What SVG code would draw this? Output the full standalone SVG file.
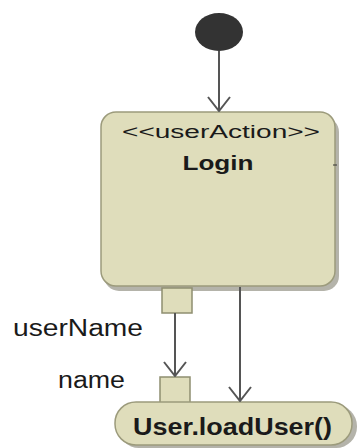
<svg xmlns="http://www.w3.org/2000/svg" width="358" height="448" viewBox="0 0 358 448">
<defs>
<style>
.act{fill:#dfddbb;stroke:#9c9b7c;stroke-width:1.5}
.shadow{fill:#b4b3aa}
.pin{fill:#dfddbb;stroke:#8f8e70;stroke-width:1.5}
.edge{stroke:#555;stroke-width:2;fill:none}
.t{font-family:"Liberation Sans",Arial,sans-serif;fill:#1a1a1a}
.b{font-weight:bold}
</style>
<marker id="arr" viewBox="0 0 16 24" refX="15" refY="12" markerWidth="16" markerHeight="24" markerUnits="userSpaceOnUse" orient="auto">
<path d="M1,1 L15,12 L1,23" fill="none" stroke="#555" stroke-width="2"/>
</marker>
</defs>
<rect width="358" height="448" fill="#fff"/>
<g id="initial">
<ellipse cx="219" cy="32" rx="24" ry="19" fill="#333"/>
</g>
<g id="login">
<rect class="shadow" x="104" y="117" width="235" height="174" rx="15"/>
<rect class="act" x="101" y="112" width="234" height="174" rx="15"/>
<line x1="333" y1="165" x2="337" y2="165" stroke="#333" stroke-width="1"/>
<text class="t" x="221" y="138" font-size="18" text-anchor="middle" textLength="198" lengthAdjust="spacingAndGlyphs">&lt;&lt;userAction&gt;&gt;</text>
<text class="t b" x="218" y="170" font-size="21" text-anchor="middle" textLength="71" lengthAdjust="spacingAndGlyphs">Login</text>
</g>
<g id="pin-userName">
<rect class="pin" x="162" y="288" width="30" height="25"/>
<text class="t" x="13" y="336" font-size="23" textLength="130" lengthAdjust="spacingAndGlyphs">userName</text>
</g>
<g id="loadUser">
<rect class="shadow" x="118" y="405" width="239" height="43" rx="21"/>
<rect class="pin" x="160" y="377" width="30" height="30"/>
<rect class="act" x="115" y="402" width="237" height="43" rx="21"/>
<text class="t b" x="133" y="435" font-size="23" textLength="199" lengthAdjust="spacingAndGlyphs">User.loadUser()</text>
</g>
<g id="pin-name">
<text class="t" x="58" y="388" font-size="23" textLength="67" lengthAdjust="spacingAndGlyphs">name</text>
</g>
<g id="connectors">
<line class="edge" x1="219" y1="51" x2="219" y2="111" marker-end="url(#arr)"/>
<line class="edge" x1="175" y1="313" x2="175" y2="376" marker-end="url(#arr)"/>
<line class="edge" x1="240" y1="287" x2="240" y2="401" marker-end="url(#arr)"/>
</g>
</svg>
